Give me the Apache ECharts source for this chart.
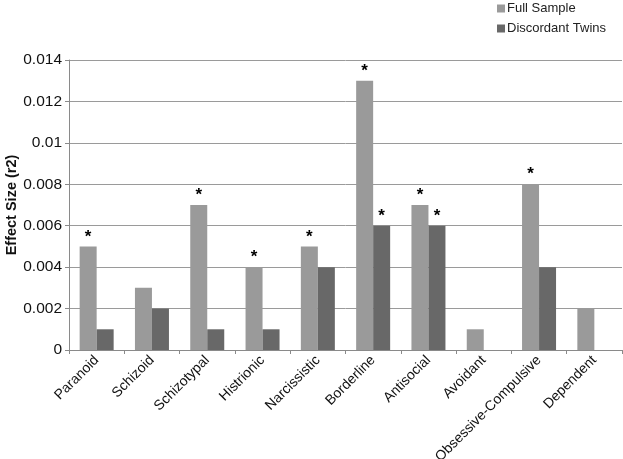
<!DOCTYPE html>
<html>
<head>
<meta charset="utf-8">
<script src="https://cdn.jsdelivr.net/npm/echarts@6/dist/echarts.min.js"></script>
<style>html,body{margin:0;padding:0;background:#fff;}#c{width:623px;height:459px;}</style>
</head>
<body>
<div id="c"></div>
<script>
const categories = ['Paranoid','Schizoid','Schizotypal','Histrionic','Narcissistic','Borderline','Antisocial','Avoidant','Obsessive-Compulsive','Dependent'];
const fullSample = [0.005, 0.003, 0.007, 0.004, 0.005, 0.013, 0.007, 0.001, 0.008, 0.002];
const discordantTwins = [0.001, 0.002, 0.001, 0.001, 0.004, 0.006, 0.006, null, 0.004, null];
const fullSig = [true, false, true, true, true, true, true, false, true, false];
const twinsSig = [false, false, false, false, false, true, true, false, false, false];
const yTicks = [0, 0.002, 0.004, 0.006, 0.008, 0.01, 0.012, 0.014];

const chart = echarts.init(document.getElementById('c'));
const font = 'Liberation Sans, Arial, sans-serif';
function sigLabel(sig) {
  return {
    show: true, position: 'top', distance: 1,
    fontFamily: font, fontSize: 17, fontWeight: 'bold', color: '#000',
    formatter: p => sig[p.dataIndex] ? '*' : ''
  };
}
chart.setOption({
  animation: false,
  backgroundColor: '#fff',
  textStyle: { fontFamily: font },
  legend: {
    orient: 'vertical', right: 12, top: -3, itemGap: 7,
    itemWidth: 8, itemHeight: 8, icon: 'rect',
    textStyle: { fontFamily: font, fontSize: 13, color: '#222', padding: [0,0,0,-3] },
    data: ['Full Sample', 'Discordant Twins']
  },
  grid: { left: 69, right: 1, top: 60, bottom: 109, containLabel: false, outerBoundsMode: 'none' },
  xAxis: {
    type: 'category', data: categories, boundaryGap: true,
    axisLine: { lineStyle: { color: '#8a8a8a', width: 1 } },
    axisTick: { show: true, length: 4, lineStyle: { color: '#8a8a8a' } },
    axisLabel: { rotate: 45, interval: 0, fontFamily: font, fontSize: 14, color: '#111', margin: 8 }
  },
  yAxis: {
    type: 'value', min: 0, max: 0.014, interval: 0.002,
    name: 'Effect Size (r2)', nameLocation: 'middle', nameGap: 50, nameRotate: 90, nameMoveOverlap: false,
    nameTextStyle: { fontFamily: font, fontSize: 14.5, fontWeight: 'bold', color: '#111' },
    axisLine: { show: true, lineStyle: { color: '#8a8a8a' } },
    axisTick: { show: true, length: 4, lineStyle: { color: '#8a8a8a' } },
    splitLine: { lineStyle: { color: '#9a9a9a', width: 1 } },
    axisLabel: { fontFamily: font, fontSize: 15.5, color: '#111', margin: 7,
      formatter: v => { const t = yTicks.find(x => Math.abs(x - v) < 1e-9); return t === undefined ? '' : String(t); } }
  },
  series: [
    { name: 'Full Sample', type: 'bar', data: fullSample, barWidth: 17, barGap: '0%',
      itemStyle: { color: '#9a9a9a' }, label: sigLabel(fullSig) },
    { name: 'Discordant Twins', type: 'bar', data: discordantTwins, barWidth: 17,
      itemStyle: { color: '#686868' }, label: sigLabel(twinsSig) }
  ]
});
</script>
</body>
</html>
